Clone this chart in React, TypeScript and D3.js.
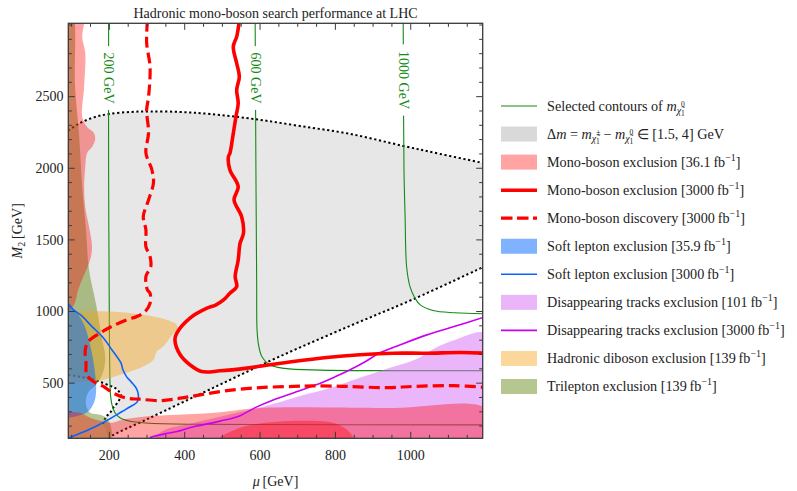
import React from "react";
import * as d3 from "d3";

type P = [number, number];

const FONT = "'Liberation Serif','Times New Roman',serif";
const title = "Hadronic mono-boson search performance at LHC";

const muDomain: P = [91, 1191];
const m2Domain: P = [115, 3012];
const muMajorTicks = [200, 400, 600, 800, 1000];
const m2MajorTicks = [500, 1000, 1500, 2000, 2500];
const muMinorTicks = d3.range(100, 1200, 50);
const m2MinorTicks = d3.range(200, 3001, 100);

// Delta m band boundaries (dotted)
const deltaMUpper: P[] = [[91, 2262], [93, 2267], [122, 2316], [162, 2358], [199, 2379], [255, 2393], [308, 2397], [388, 2393], [467, 2379], [584, 2344], [706, 2295], [839, 2240], [980, 2156], [1078, 2100], [1195, 2035]];
const deltaMLower: P[] = [[199, 110], [203, 125], [308, 258], [473, 464], [653, 687], [839, 900], [1006, 1085], [1195, 1314]];
const deltaMHook: P[] = [[91, 558], [122, 544], [149, 530], [175, 509], [202, 481], [215, 467], [226, 439], [231, 418], [223, 369], [210, 328], [202, 293], [191, 265], [183, 216]];

// Selected neutralino mass contours
const contourLabels = ["200 GeV", "600 GeV", "1000 GeV"];
const contourLabelM2 = [2630, 2630, 2616];
const contour200: P[] = [[198, 3030], [198, 2000], [200, 900], [201, 600], [203, 418], [207, 349], [215, 293], [228, 258], [255, 234], [308, 220], [473, 212], [1200, 209]];
const contour600: P[] = [[587, 3030], [589, 2000], [591, 1200], [592, 872], [596, 767], [605, 684], [625, 628], [665, 603], [759, 591], [972, 587], [1200, 586]];
const contour1000: P[] = [[980, 3030], [982, 2000], [985, 1663], [989, 1314], [998, 1174], [1011, 1095], [1025, 1046], [1059, 1007], [1117, 991], [1200, 984]];

// Mono-boson projections
const monoExcl3000: P[] = [[545, 3030], [538, 2919], [529, 2849], [538, 2733], [545, 2639], [538, 2547], [542, 2454], [536, 2360], [529, 2245], [520, 2105], [516, 2081], [520, 1988], [542, 1872], [531, 1779], [551, 1663], [556, 1547], [547, 1477], [542, 1360], [534, 1244], [538, 1174], [520, 1128], [503, 1081], [482, 1045], [459, 1023], [414, 954], [379, 849], [374, 802], [388, 698], [414, 628], [445, 581], [494, 586], [565, 605], [688, 651], [777, 679], [865, 698], [954, 709], [1042, 709], [1131, 714], [1200, 709]];
const monoDisc3000: P[] = [[301, 3030], [299, 2875], [308, 2707], [304, 2498], [299, 2407], [304, 2247], [297, 2107], [313, 1988], [317, 1898], [304, 1779], [290, 1663], [297, 1570], [297, 1453], [308, 1383], [310, 1314], [297, 1244], [301, 1151], [308, 1128], [308, 1058], [295, 1000], [273, 965], [246, 942], [202, 890], [175, 849], [144, 790], [136, 732], [138, 640], [140, 558], [158, 511], [184, 477], [211, 430], [246, 395], [281, 388], [335, 378], [388, 395], [441, 418], [512, 448], [600, 469], [688, 477], [741, 481], [830, 477], [936, 469], [1007, 477], [1113, 483], [1200, 470]];
const monoExcl36Left: P[] = [[85, 3100], [133, 3100], [128, 2917], [136, 2805], [133, 2568], [128, 2358], [141, 2288], [159, 2247], [162, 2198], [154, 2149], [141, 2107], [136, 2009], [133, 1870], [136, 1730], [146, 1591], [154, 1451], [149, 1360], [133, 1256], [117, 1151], [106, 1046], [85, 990]];
const monoExcl36Bottom: P[] = [[85, 300], [122, 293], [149, 258], [175, 237], [207, 223], [234, 244], [295, 267], [384, 279], [473, 291], [600, 326], [777, 330], [954, 326], [1200, 321], [1200, 100], [85, 100]];
const monoExcl36Blob: P[] = [[494, 100], [494, 118], [555, 195], [645, 230], [733, 237], [794, 223], [831, 174], [847, 118], [847, 100]];

// Other searches
const softLepton36: P[] = [[85, 1050], [91, 1046], [112, 998], [133, 907], [149, 767], [159, 628], [165, 453], [159, 363], [143, 300], [117, 272], [91, 258], [85, 258]];
const softLepton3000: P[] = [[85, 1062], [91, 1053], [105, 1011], [124, 976], [154, 895], [181, 825], [207, 732], [231, 640], [236, 593], [246, 544], [258, 509], [271, 467], [277, 418], [274, 369], [255, 335], [234, 302], [189, 232], [145, 174], [101, 127], [88, 110]];
const disTrack101: P[] = [[321, 100], [321, 118], [348, 174], [414, 216], [494, 265], [573, 314], [653, 369], [706, 411], [786, 467], [865, 537], [945, 607], [1011, 663], [1070, 753], [1117, 802], [1200, 844], [1200, 100]];
const disTrack3000: P[] = [[308, 112], [308, 118], [348, 146], [380, 162], [423, 195], [494, 235], [547, 273], [587, 329], [635, 383], [688, 432], [749, 488], [799, 544], [839, 593], [879, 649], [918, 712], [971, 767], [1043, 837], [1104, 886], [1200, 965]];
const hadDiboson139: P[] = [[85, 1000], [202, 1000], [290, 977], [352, 942], [379, 907], [380, 872], [370, 849], [343, 755], [326, 721], [317, 663], [290, 616], [228, 558], [184, 523], [140, 511], [85, 500]];
const trilepton139: P[] = [[85, 3100], [101, 3100], [109, 2568], [120, 2219], [128, 1870], [138, 1570], [146, 1291], [165, 1046], [181, 802], [189, 684], [183, 572], [165, 488], [143, 432], [138, 349], [149, 293], [175, 279], [197, 244], [202, 100], [85, 100]];

const legendLabels = [
  "Selected contours of m",
  "Δm = m − m ∈ [1.5, 4] GeV",
  "Mono-boson exclusion [36.1\u2009fb^{−1}]",
  "Mono-boson exclusion [3000\u2009fb^{−1}]",
  "Mono-boson discovery [3000\u2009fb^{−1}]",
  "Soft lepton exclusion [35.9\u2009fb^{−1}]",
  "Soft lepton exclusion [3000\u2009fb^{−1}]",
  "Disappearing tracks exclusion [101\u2009fb^{−1}]",
  "Disappearing tracks exclusion [3000\u2009fb^{−1}]",
  "Hadronic diboson exclusion [139\u2009fb^{−1}]",
  "Trilepton exclusion [139\u2009fb^{−1}]",
];

const C = {
  contour: "#138a13",
  grey: "#e7e7e7",
  greyLegend: "#d9d9d9",
  pink: "rgba(255,0,0,0.36)",
  red: "#ff0000",
  blueFill: "rgba(0,102,255,0.5)",
  blueLine: "#0a62ff",
  violetFill: "rgba(210,90,245,0.45)",
  violetLine: "#cc00ee",
  orange: "rgba(245,160,20,0.42)",
  olive: "rgba(107,142,35,0.5)",
};

const W = 797, H = 491;
const L = 68.3, R = 482.7, T = 23.3, B = 438.3;

const x = d3.scaleLinear().domain(muDomain).range([L, R]);
const y = d3.scaleLinear().domain(m2Domain).range([B, T]);

const lin = d3.line<P>().x(d => x(d[0])).y(d => y(d[1]));
const smooth = d3.line<P>().x(d => x(d[0])).y(d => y(d[1])).curve(d3.curveCatmullRom.alpha(0.5));
const poly = (pts: P[]) => (smooth(pts) || "") + "Z";

function LegendText({ label, i, tx, ty }: { label: string; i: number; tx: number; ty: number }) {
  const fs = 14.2;
  if (i === 0) {
    return (
      <text x={tx} y={ty} fontSize={fs} fontFamily={FONT} fill="#222">
        Selected contours of <tspan fontStyle="italic">m</tspan>
        <tspan fontSize={10} dy={3.5} fontStyle="italic">{"χ\u0303"}</tspan>
        <tspan fontSize={7.5} dy={-7}>0</tspan>
        <tspan fontSize={7.5} dx={-3.9} dy={9}>1</tspan>
      </text>
    );
  }
  if (i === 1) {
    return (
      <text x={tx} y={ty} fontSize={fs} fontFamily={FONT} fill="#222">
        Δ<tspan fontStyle="italic">m</tspan>{" = "}<tspan fontStyle="italic">m</tspan>
        <tspan fontSize={10} dy={3.5} fontStyle="italic">{"χ\u0303"}</tspan>
        <tspan fontSize={7.5} dy={-7}>±</tspan>
        <tspan fontSize={7.5} dx={-4.2} dy={9}>1</tspan>
        <tspan dy={-5.5}>{" − "}</tspan><tspan fontStyle="italic">m</tspan>
        <tspan fontSize={10} dy={3.5} fontStyle="italic">{"χ\u0303"}</tspan>
        <tspan fontSize={7.5} dy={-7}>0</tspan>
        <tspan fontSize={7.5} dx={-3.9} dy={9}>1</tspan>
        <tspan dy={-5.5}>{" ∈ [1.5, 4] GeV"}</tspan>
      </text>
    );
  }
  const parts = label.split(/\^\{([^}]*)\}/);
  return (
    <text x={tx} y={ty} fontSize={fs} fontFamily={FONT} fill="#222">
      {parts.map((p, k) => {
        if (p === "") return null;
        if (k % 2 === 1) return <tspan key={k} fontSize={10} dy={-6}>{p}</tspan>;
        return <tspan key={k} dy={k > 0 ? 6 : 0}>{p}</tspan>;
      })}
    </text>
  );
}

export default function App() {
  const contours = [contour200, contour600, contour1000];
  const greyPoly = [...deltaMUpper, ...deltaMLower.slice().reverse(), ...deltaMHook.slice().reverse()];
  const dotted = { fill: "none", stroke: "#000", strokeWidth: 2, strokeDasharray: "2.2,2.6" };

  type LegendKind = { kind: "line" | "patch" | "dashed"; color: string; width?: number };
  const legendStyles: LegendKind[] = [
    { kind: "line", color: C.contour, width: 1.2 },
    { kind: "patch", color: C.greyLegend },
    { kind: "patch", color: C.pink },
    { kind: "line", color: C.red, width: 3.5 },
    { kind: "dashed", color: C.red, width: 3.2 },
    { kind: "patch", color: C.blueFill },
    { kind: "line", color: C.blueLine, width: 1.6 },
    { kind: "patch", color: C.violetFill },
    { kind: "line", color: C.violetLine, width: 1.6 },
    { kind: "patch", color: C.orange },
    { kind: "patch", color: C.olive },
  ];

  const axisColor = "#3a3a3a";

  return (
    <svg width={W} height={H} style={{ position: "absolute", left: 0, top: 0, background: "#fff" }} fontFamily={FONT}>
      <defs>
        <clipPath id="plotclip">
          <rect x={L} y={T} width={R - L} height={B - T} />
        </clipPath>
      </defs>
      <rect x={0} y={0} width={W} height={H} fill="#fff" />
      <g clipPath="url(#plotclip)">
        <path d={lin(greyPoly) + "Z"} fill={C.grey} />
        <path d={smooth(deltaMUpper) || ""} {...dotted} />
        <path d={smooth(deltaMLower) || ""} {...dotted} />
        <path d={smooth(deltaMHook) || ""} {...dotted} />
        {contours.map((c, i) => (
          <path key={i} d={smooth(c) || ""} fill="none" stroke={C.contour} strokeWidth={1.1} />
        ))}
        {contours.map((c, i) => {
          const cx = x(c[0][0]);
          const cy = y(contourLabelM2[i]);
          const half = contourLabels[i].length * 3.7 + 6;
          return (
            <g key={"lab" + i}>
              <rect x={cx - 7} y={cy - half} width={14} height={half * 2} fill="#fff" />
              <text transform={`translate(${cx},${cy}) rotate(90)`} textAnchor="middle" dominantBaseline="central" fontSize={14} fill={C.contour}>
                {contourLabels[i]}
              </text>
            </g>
          );
        })}
        <path d={poly(trilepton139)} fill={C.olive} />
        <path d={poly(disTrack101)} fill={C.violetFill} />
        <path d={poly(hadDiboson139)} fill={C.orange} />
        <path d={poly(softLepton36)} fill={C.blueFill} />
        <path d={poly(monoExcl36Left)} fill={C.pink} />
        <path d={poly(monoExcl36Bottom)} fill={C.pink} />
        <path d={poly(monoExcl36Blob)} fill={C.pink} />
        <path d={smooth(disTrack3000) || ""} fill="none" stroke={C.violetLine} strokeWidth={1.6} />
        <path d={smooth(softLepton3000) || ""} fill="none" stroke={C.blueLine} strokeWidth={1.6} />
        <path d={smooth(monoDisc3000) || ""} fill="none" stroke={C.red} strokeWidth={3.2} strokeDasharray="11,5" />
        <path d={smooth(monoExcl3000) || ""} fill="none" stroke={C.red} strokeWidth={3.6} strokeLinejoin="round" />
      </g>

      {/* frame */}
      <rect x={L} y={T} width={R - L} height={B - T} fill="none" stroke={axisColor} strokeWidth={1.3} />
      {/* ticks */}
      <g stroke={axisColor} strokeWidth={1}>
        {muMinorTicks.filter(v => v > muDomain[0] && v < muDomain[1]).map(v => (
          <g key={"xm" + v}>
            <line x1={x(v)} x2={x(v)} y1={B} y2={B - (muMajorTicks.includes(v) ? 6.5 : 3.5)} />
            <line x1={x(v)} x2={x(v)} y1={T} y2={T + (muMajorTicks.includes(v) ? 6.5 : 3.5)} />
          </g>
        ))}
        {m2MinorTicks.filter(v => v > m2Domain[0] && v < m2Domain[1]).map(v => (
          <g key={"ym" + v}>
            <line x1={L} x2={L + (m2MajorTicks.includes(v) ? 6.5 : 3.5)} y1={y(v)} y2={y(v)} />
            <line x1={R} x2={R - (m2MajorTicks.includes(v) ? 6.5 : 3.5)} y1={y(v)} y2={y(v)} />
          </g>
        ))}
      </g>
      {muMajorTicks.map(v => (
        <text key={"xl" + v} x={x(v)} y={460} textAnchor="middle" fontSize={14} fill="#222">{v}</text>
      ))}
      {m2MajorTicks.map(v => (
        <text key={"yl" + v} x={63.5} y={y(v) + 4.8} textAnchor="end" fontSize={14} fill="#222">{v}</text>
      ))}

      <text x={(L + R) / 2} y={18} textAnchor="middle" fontSize={14} fill="#222">{title}</text>
      <text x={(L + R) / 2} y={486} textAnchor="middle" fontSize={14} fill="#222">
        <tspan fontStyle="italic">μ</tspan>{"\u2009[GeV]"}
      </text>
      <text transform={`translate(22,${(T + B) / 2}) rotate(-90)`} textAnchor="middle" fontSize={14} fill="#222">
        <tspan fontStyle="italic">M</tspan>
        <tspan fontSize={10} dy={3}>2</tspan>
        <tspan dy={-3}>{"\u2009[GeV]"}</tspan>
      </text>

      {/* legend */}
      {legendLabels.map((lab, i) => {
        const cy = 106 + i * 28.05;
        const st = legendStyles[i];
        return (
          <g key={"lg" + i}>
            {st.kind === "patch" ? (
              <rect x={501} y={cy - 7.5} width={36} height={15} fill={st.color} />
            ) : (
              <line x1={501} x2={537} y1={cy} y2={cy} stroke={st.color} strokeWidth={st.width}
                strokeDasharray={st.kind === "dashed" ? "11.5,4.5" : undefined} />
            )}
            <LegendText label={lab} i={i} tx={547} ty={cy + 4.8} />
          </g>
        );
      })}
    </svg>
  );
}
